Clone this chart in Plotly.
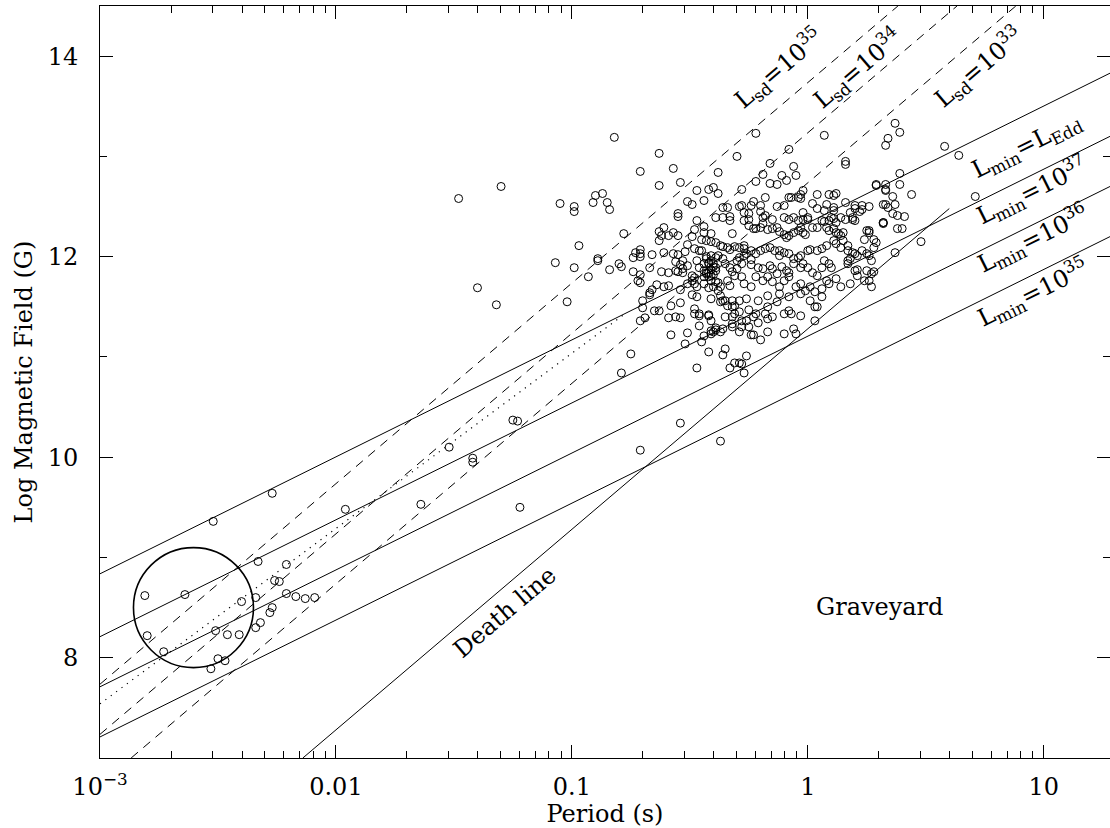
import numpy as np
import plotly.graph_objects as go

# ---------------- pulsar data: log10(period / s) and log10(B / G) ----------------
msp_logp = [-2.81, -2.64, -2.52, -2.27, -2.80, -2.73, -2.51, -2.46, -2.41, -2.50, -2.47, -2.53, -2.40,
            -2.33, -2.34, -2.34, -2.32, -2.28, -2.27, -2.26, -2.24, -2.21, -2.21, -2.17, -2.13, -2.09,
            -1.96, -1.40, -1.32, -1.07, -1.52, -1.25, -1.23, -1.42, -1.42, -1.64, -1.22]
msp_logb = [8.62, 8.63, 9.36, 9.64, 8.22, 8.06, 8.27, 8.23, 8.23, 7.99, 7.97, 7.89, 8.56,
            8.96, 8.60, 8.30, 8.35, 8.45, 8.50, 8.77, 8.76, 8.93, 8.64, 8.61, 8.59, 8.60,
            9.48, 11.69, 11.52, 11.94, 10.10, 10.37, 10.36, 9.99, 9.95, 9.53, 9.50]

left_logp = [-1.48, -1.30, -0.82, -0.63, -0.71, -0.57, -0.54, -0.63, -0.47, -0.42, -0.40, -0.38, -1.05, -0.99, -0.99, -0.90, -0.87, -0.91, -0.85, -0.84,
             -0.51, -0.49, -0.55, -0.55, -0.47, -0.78, -0.97, -0.99, -0.89, -0.89, -0.93, -0.84, -0.80, -0.79, -0.74, -0.71, -0.73, -0.74, -0.71, -0.71,
             -0.66, -0.71, -0.67, -0.72, -0.71, -0.63, -0.62, -0.61, -0.63, -0.59, -0.57, -0.55, -0.61, -0.62, -0.59, -1.02, -0.70, -0.70, -0.66, -0.67,
             -0.67, -0.64, -0.61, -0.59, -0.65, -0.63, -0.71, -0.69, -0.59, -0.56, -0.54, -0.58, -0.54, -0.49, -0.58, -0.51, -0.46, -0.48, -0.46, -0.51,
             -0.48, -0.57, -0.55, -0.52, -0.51, -0.53, -0.51, -0.56, -0.54, -0.53, -0.55, -0.53, -0.56, -0.49, -0.48, -0.44, -0.44, -0.45, -0.43, -0.48,
             -0.45, -0.47, -0.43, -0.44, -0.42, -0.46, -0.43, -0.44, -0.42, -0.49, -0.42, -0.42, -0.41]
left_logb = [12.58, 12.70, 13.19, 13.03, 12.85, 12.88, 12.74, 12.71, 12.66, 12.67, 12.69, 12.63, 12.53, 12.50, 12.45, 12.61, 12.63, 12.54, 12.54, 12.47,
             12.55, 12.52, 12.43, 12.40, 12.36, 12.23, 12.11, 11.89, 11.98, 11.96, 11.80, 11.87, 11.93, 11.90, 11.85, 12.03, 12.04, 11.99, 12.00, 12.07,
             12.02, 11.82, 11.89, 11.76, 11.74, 12.16, 12.21, 12.29, 12.25, 12.21, 12.24, 12.21, 12.04, 11.85, 11.84, 11.55, 11.56, 11.49, 11.67, 11.64,
             11.62, 11.72, 11.70, 11.71, 11.46, 11.46, 11.36, 11.39, 11.39, 11.40, 11.39, 11.51, 11.54, 11.62, 11.22, 11.24, 11.31, 11.48, 11.43, 11.73,
             11.73, 12.03, 12.02, 12.05, 12.12, 11.96, 11.91, 11.95, 11.92, 11.88, 11.85, 11.84, 11.86, 12.20, 12.27, 12.30, 12.24, 12.17, 12.16, 12.08,
             12.06, 11.96, 11.98, 11.93, 11.93, 11.89, 11.84, 11.80, 11.80, 11.76, 11.69, 11.42, 11.36]

low_logp = [-0.75, -0.79, -0.52, -0.47, -0.42, -0.45, -0.44, -0.54, -0.36, -0.35, -0.32, -0.31, -0.25, -0.23, -0.35, -0.32, -0.36, -0.37, -0.39, -0.40,
            -0.39, -0.41, -0.36, -0.35, -0.31, -0.29, -0.28, -0.26, -0.33, -0.27, -0.24, -0.23, -0.28, -0.29, -0.26, -0.21, -0.25, -0.31, -0.40, -0.38,
            -0.37, -0.38, -0.34, -0.32, -0.41, -0.44, -0.42, -0.43, -0.41, -0.40, -0.39, -0.43, -0.41, -0.42, -0.40, -0.40, -0.41, -0.39, -0.71, -0.54, -0.37]
low_logb = [11.03, 10.84, 11.13, 10.89, 11.05, 11.15, 11.21, 11.67, 11.56, 11.56, 11.50, 11.51, 11.47, 11.40, 11.40, 11.30, 11.28, 11.25, 11.27, 11.25,
            11.29, 11.23, 11.02, 11.08, 10.94, 10.94, 10.93, 11.01, 10.89, 10.84, 11.22, 11.22, 11.36, 11.25, 11.36, 11.34, 11.30, 11.43, 11.70, 11.74,
            11.61, 11.66, 11.51, 11.56, 11.76, 11.86, 11.84, 11.83, 11.81, 11.82, 11.86, 12.00, 11.96, 11.94, 11.93, 11.90, 11.87, 11.99, 10.07, 10.34, 10.16]

core_logp = [-0.30, -0.08, -0.16, -0.38, -0.06, -0.11, -0.09, -0.05, -0.19, -0.16, -0.13, -0.22, -0.28, -0.18, -0.36, -0.34, -0.28, -0.29, -0.27, -0.25,
             -0.24, -0.23, -0.20, -0.20, -0.13, -0.10, -0.08, -0.07, -0.04, -0.03, -0.02, -0.03, 0.04, 0.02, 0.04, 0.07, 0.08, 0.09, 0.11, 0.12,
             -0.02, 0.16, 0.20, 0.23, 0.23, 0.22, 0.20, 0.18, 0.29, 0.33, 0.33, 0.32, 0.16, 0.16, 0.33, 0.26, 0.10, 0.09, 0.11, 0.11,
             0.11, -0.41, -0.39, -0.36, -0.33, -0.33, -0.32, -0.27, -0.25, -0.25, -0.23, -0.22, -0.19, -0.19, -0.18, -0.15, -0.20, -0.17, -0.15, -0.10,
             -0.08, -0.06, -0.04, -0.02, 0.00, 0.00, -0.13, -0.12, -0.10, -0.09, -0.08, -0.06, -0.04, -0.02, -0.01, -0.03, 0.02, 0.04, 0.06, 0.07,
             0.08, 0.09, 0.12, 0.14, 0.15, 0.13, 0.11, 0.12, 0.14, 0.16, 0.19, 0.20, 0.19, 0.26, 0.26, 0.24, 0.28, 0.29, 0.32, 0.32,
             -0.41, -0.39, -0.37, -0.36, -0.34, -0.33, -0.31, -0.29, -0.27, -0.27, -0.24, -0.26, -0.46, -0.41, -0.39, -0.48, -0.49, -0.38, -0.36, -0.35,
             -0.33, -0.32, -0.30, -0.30, -0.28, -0.29, -0.27, -0.24, -0.24, -0.22, -0.20, -0.18, -0.16, -0.14, -0.12, -0.12, -0.10, -0.08, -0.06, -0.04,
             -0.03, 0.00, 0.01, -0.21, -0.19, -0.16, -0.15, -0.13, -0.11, -0.09, -0.08, -0.06, -0.03, -0.02, 0.00, 0.02, 0.04, 0.06, 0.07, 0.09,
             0.10, 0.04, 0.06, 0.08, 0.11, 0.12, 0.14, 0.15, 0.17, 0.17, 0.19, 0.21, 0.23, 0.26, 0.17, 0.20, 0.21, 0.25, -0.47, -0.44,
             -0.39, -0.37, -0.34, -0.33, -0.31, -0.28, -0.27, -0.24, -0.22, -0.19, -0.17, -0.15, -0.12, -0.10, -0.08, -0.05, -0.03, -0.01, 0.01, 0.03,
             0.06, 0.08, 0.09, 0.12, 0.14, 0.18, 0.24, 0.27, 0.28, -0.47, -0.41, -0.37, -0.29, -0.26, -0.21, -0.17, -0.13, -0.12, -0.08, -0.03,
             0.01, 0.03, 0.06, -0.48, -0.46, -0.42, -0.32, -0.29, -0.22, -0.17, -0.15, -0.10, -0.08, -0.07, -0.03, -0.41, -0.32, -0.28, -0.17, -0.10,
             -0.05, 0.03, 0.04]
core_logb = [13.00, 13.07, 12.93, 12.84, 12.90, 12.81, 12.76, 12.81, 12.82, 12.73, 12.72, 12.75, 12.67, 12.59, 12.49, 12.49, 12.51, 12.50, 12.44, 12.43,
             12.51, 12.55, 12.45, 12.51, 12.50, 12.51, 12.59, 12.59, 12.59, 12.62, 12.66, 12.58, 12.62, 12.53, 12.48, 12.46, 12.52, 12.62, 12.61, 12.63,
             12.44, 12.54, 12.51, 12.51, 12.47, 12.45, 12.48, 12.44, 12.71, 12.66, 12.72, 12.52, 12.92, 12.95, 13.11, 12.50, 12.39, 12.36, 12.38, 12.46,
             12.49, 12.23, 12.39, 12.39, 12.36, 12.40, 12.23, 12.36, 12.31, 12.37, 12.28, 12.28, 12.33, 12.39, 12.41, 12.37, 12.29, 12.27, 12.28, 12.39,
             12.37, 12.39, 12.36, 12.37, 12.37, 12.39, 12.29, 12.25, 12.22, 12.19, 12.21, 12.24, 12.26, 12.24, 12.22, 12.29, 12.29, 12.29, 12.36, 12.35,
             12.29, 12.26, 12.24, 12.21, 12.24, 12.23, 12.28, 12.34, 12.39, 12.37, 12.37, 12.36, 12.39, 12.26, 12.24, 12.17, 12.17, 12.14, 12.34, 12.33,
             12.15, 12.14, 12.11, 12.10, 12.09, 12.07, 12.10, 12.09, 12.11, 12.08, 12.06, 12.03, 12.06, 12.01, 11.89, 11.79, 11.81, 12.01, 11.98, 11.93,
             11.89, 11.85, 11.88, 11.96, 11.93, 11.99, 12.01, 11.97, 11.92, 12.03, 12.06, 12.08, 12.09, 12.06, 12.06, 12.01, 12.04, 12.03, 11.98, 11.99,
             12.01, 12.06, 12.07, 11.89, 11.88, 11.91, 11.88, 11.83, 11.90, 11.86, 11.84, 11.93, 11.89, 11.93, 11.89, 11.84, 11.81, 11.89, 11.96, 11.93,
             11.89, 12.06, 12.08, 12.11, 12.16, 12.13, 12.09, 12.16, 12.11, 12.06, 12.04, 12.01, 12.06, 12.01, 11.93, 11.86, 11.81, 11.86, 11.70, 11.73,
             11.75, 11.70, 11.76, 11.71, 11.81, 11.80, 11.73, 11.70, 11.80, 11.76, 11.80, 11.75, 11.70, 11.76, 11.80, 11.70, 11.73, 11.66, 11.70, 11.65,
             11.68, 11.76, 11.73, 11.78, 11.70, 11.73, 11.76, 11.83, 11.85, 11.60, 11.58, 11.55, 11.56, 11.58, 11.56, 11.61, 11.55, 11.63, 11.60, 11.63,
             11.56, 11.50, 11.60, 11.43, 11.41, 11.41, 11.40, 11.45, 11.43, 11.50, 11.40, 11.43, 11.46, 11.43, 11.41, 11.26, 11.33, 11.30, 11.25, 11.23,
             11.23, 11.36, 11.50]

right_logp = [-0.22, 0.07, -0.44, 0.37, 0.39, 0.34, 0.58, 0.64, 0.39, 0.39, 0.29, 0.33, 0.36, 0.44, 0.32, 0.37, 0.38, 0.41, 0.38, 0.40,
              0.33, 0.34, 0.36, 0.71, 0.48, 0.25, 0.28, 0.25, 0.21, 0.37, 0.27, 0.26, 0.27, 0.20, 0.18, 0.17, -0.06, -0.18, -0.17, -0.20]
right_logb = [13.23, 13.21, 12.56, 13.33, 13.24, 13.18, 13.10, 13.01, 12.83, 12.72, 12.72, 12.67, 12.60, 12.62, 12.34, 12.52, 12.41, 12.40, 12.28, 12.28,
              12.52, 12.49, 12.43, 12.60, 12.15, 12.26, 12.09, 12.03, 11.87, 12.04, 11.96, 11.76, 11.70, 12.03, 11.98, 11.96, 11.28, 11.43, 11.38, 11.17]

log_period = msp_logp + left_logp + low_logp + core_logp + right_logp
log_b = msp_logb + left_logb + low_logb + core_logb + right_logb
assert len(log_period) == len(log_b)

# ---------------- model lines (end points) ----------------
lmin_labels = ["L<sub>min</sub>=L<sub>Edd</sub>", "L<sub>min</sub>=10<sup>37</sup>",
               "L<sub>min</sub>=10<sup>36</sup>", "L<sub>min</sub>=10<sup>35</sup>"]
lmin_period = [0.001, 19.1]
lmin_logb = [[8.837, 13.83], [8.21, 13.20], [7.71, 12.70], [7.21, 12.20]]
lmin_label_logp = [0.929, 0.950, 0.955, 0.955]
lmin_label_logb = [13.10, 12.66, 12.18, 11.64]

lsd_labels = ["L<sub>sd</sub>=10<sup>35</sup>", "L<sub>sd</sub>=10<sup>34</sup>", "L<sub>sd</sub>=10<sup>33</sup>"]
lsd_period = [[0.001, 2.41], [0.001, 4.29], [0.001355, 7.62]]
lsd_logb = [[7.736, 14.5], [7.236, 14.5], [7.0, 14.5]]
lsd_label_logp = [-0.125, 0.21, 0.722]
lsd_label_logb = [13.88, 13.88, 13.89]

death_period = [0.00724, 3.98]
death_logb = [7.0, 12.48]
dotted_period = [0.001, 0.168]
dotted_logb = [7.54, 11.43]

circle_period = [0.00249]
circle_logb = [8.5]

FONT = "DejaVu Serif"

fig = go.Figure()
for yy in lmin_logb:
    fig.add_trace(go.Scatter(x=lmin_period, y=yy, mode="lines",
                             line=dict(color="black", width=1), hoverinfo="skip"))
for xx, yy in zip(lsd_period, lsd_logb):
    fig.add_trace(go.Scatter(x=xx, y=yy, mode="lines",
                             line=dict(color="black", width=1, dash="9px,7px"), hoverinfo="skip"))
fig.add_trace(go.Scatter(x=death_period, y=death_logb, mode="lines",
                         line=dict(color="black", width=1), hoverinfo="skip"))
fig.add_trace(go.Scatter(x=dotted_period, y=dotted_logb, mode="lines",
                         line=dict(color="black", width=1.2, dash="1.2px,5.5px"), hoverinfo="skip"))
fig.add_trace(go.Scatter(x=circle_period, y=circle_logb, mode="markers",
                         marker=dict(symbol="circle-open", size=120, color="black",
                                     line=dict(color="black", width=1.6)), hoverinfo="skip"))
fig.add_trace(go.Scatter(x=10 ** np.array(log_period), y=log_b, mode="markers",
                         marker=dict(symbol="circle-open", size=8, color="black",
                                     line=dict(color="black", width=1))))

annotations = []
for t, xx, yy in zip(lsd_labels, lsd_label_logp, lsd_label_logb):
    annotations.append(dict(x=xx, y=yy, text=t, textangle=-40.4, showarrow=False,
                            font=dict(family=FONT, size=24, color="black")))
for t, xx, yy in zip(lmin_labels, lmin_label_logp, lmin_label_logb):
    annotations.append(dict(x=xx, y=yy, text=t, textangle=-26.4, showarrow=False,
                            font=dict(family=FONT, size=24, color="black")))
annotations.append(dict(x=-1.283, y=8.455, text="Death line", textangle=-40.4, showarrow=False,
                        font=dict(family=FONT, size=24, color="black")))
annotations.append(dict(x=0.302, y=8.505, text="Graveyard", showarrow=False,
                        font=dict(family=FONT, size=24, color="black")))

major_x = [0.001, 0.01, 0.1, 1, 10]
major_x_text = ["10<sup>\u22123</sup>", "0.01", "0.1", "1", "10"]
minor_x = [m * d for d in [0.001, 0.01, 0.1, 1, 10] for m in range(2, 10)]

fig.update_layout(
    width=1110, height=828,
    margin=dict(l=100, r=0, t=6, b=70),
    plot_bgcolor="white", paper_bgcolor="white",
    showlegend=False,
    font=dict(family=FONT, size=24, color="black"),
    annotations=annotations,
)
fig.update_xaxes(
    type="log", range=[-3, 1.281],
    tickmode="array", tickvals=major_x, ticktext=major_x_text,
    ticks="inside", ticklen=13, tickwidth=1, tickcolor="black",
    showline=True, linecolor="black", linewidth=1, mirror="ticks",
    showgrid=False, zeroline=False, ticklabelstandoff=7,
    minor=dict(ticks="inside", ticklen=7, tickwidth=1, tickcolor="black",
               tickmode="array", tickvals=minor_x, showgrid=False),
    title=dict(text="Period (s)", font=dict(family=FONT, size=24), standoff=6),
    tickfont=dict(family=FONT, size=24),
)
fig.update_yaxes(
    range=[7, 14.5],
    tickmode="array", tickvals=[8, 10, 12, 14], ticktext=["8", "10", "12", "14"],
    ticks="inside", ticklen=13, tickwidth=1, tickcolor="black",
    showline=True, linecolor="black", linewidth=1, mirror="ticks",
    showgrid=False, zeroline=False, ticklabelstandoff=16,
    minor=dict(ticks="inside", ticklen=7, tickwidth=1, tickcolor="black",
               tickmode="array", tickvals=[7, 9, 11, 13], showgrid=False),
    title=dict(text="Log Magnetic Field (G)", font=dict(family=FONT, size=24), standoff=8),
    tickfont=dict(family=FONT, size=24),
)

fig.write_html("out.html", config={"displayModeBar": False},
               post_script="document.body.style.margin='0px';document.body.style.padding='0px';")
